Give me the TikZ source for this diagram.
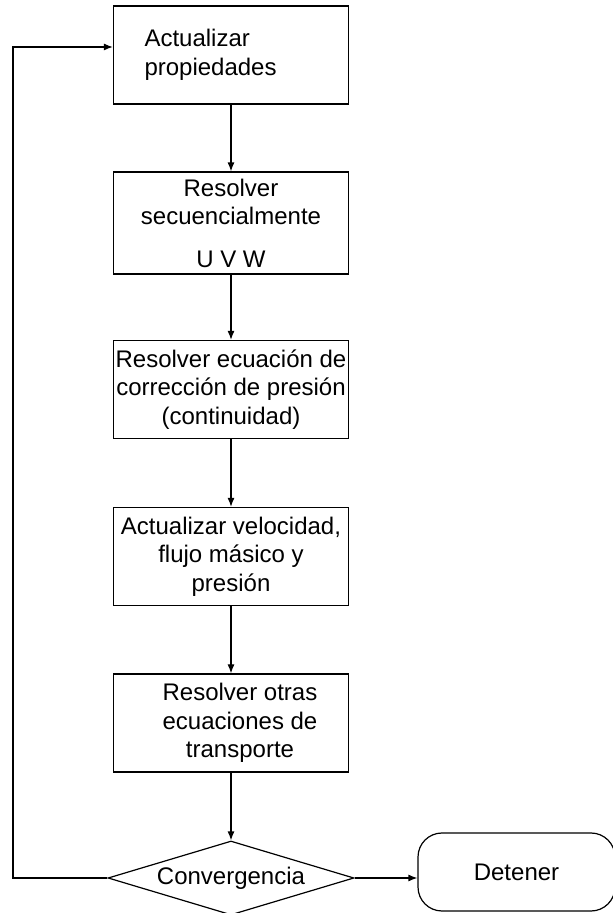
\documentclass[tikz,border=0pt]{standalone}
\usepackage{fontspec}
\setmainfont{Liberation Sans}
\usetikzlibrary{shapes.geometric,arrows.meta}

\begin{document}
\begin{tikzpicture}[x=0.5pt,y=0.5pt,
  txt/.style={align=center,font=\fontsize{12}{14.25}\selectfont},
  box/.style={txt,draw=black,line width=0.6pt,rectangle,minimum width=117.5pt,minimum height=49pt,inner xsep=0.5pt},
  dia/.style={txt,draw=black,line width=0.6pt,diamond,aspect=3.3,minimum width=123pt,minimum height=37pt,inner sep=0pt},
  stop/.style={txt,draw=black,line width=0.6pt,rectangle,rounded corners=12pt,minimum width=98.5pt,minimum height=39pt},
  arr/.style={line width=0.6pt,-{Latex[length=4.5pt,width=3.5pt]}}]
\useasboundingbox (0,0) rectangle (613,913);
% Drawing boxes
\node[box,text width=86.5pt,align=left] (b1) at (231,858) {Actualizar\\propiedades};
\node[box] (b2) at (231,690) {Resolver\\secuencialmente\\[7pt]U V W};
\node[box] (b3) at (231,523.5) {Resolver ecuación de\\corrección de presión\\(continuidad)};
\node[box] (b4) at (231,356.5) {Actualizar velocidad,\\flujo másico y\\presión};
\node[box,label={[txt,xshift=4.5pt]center:Resolver otras\\ecuaciones de\\transporte}] (b5) at (231,190) {};
% Done with boxes; drawing test and end
\node[dia] (conv) at (231,35) {Convergencia};
\node[stop] (stop) at (516.5,41) {Detener};
\coordinate (loop) at (13,866);
% Drawing arrows
\draw[arr] (b1) -- (b2);
\draw[arr] (b2) -- (b3);
\draw[arr] (b3) -- (b4);
\draw[arr] (b4) -- (b5);
\draw[arr] (b5) -- (conv);
\draw[arr] (conv.east) -- (conv.east -| stop.west);
\draw[arr] (conv.west) -| (loop) -- (loop -| b1.west);
% Done with arrows
\end{tikzpicture}
\end{document}
